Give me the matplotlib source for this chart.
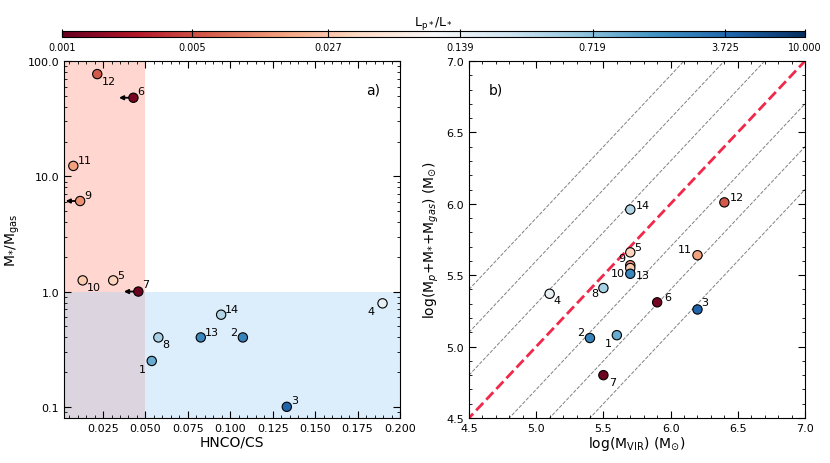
import numpy as np
import matplotlib
matplotlib.use("Agg")
import matplotlib.pyplot as plt
from matplotlib.colors import LogNorm
from matplotlib.ticker import FixedLocator, NullFormatter

ids = [1, 2, 3, 4, 5, 6, 7, 8, 9, 10, 11, 12, 13, 14]
hnco_cs = [0.0537, 0.1074, 0.1333, 0.1897, 0.031, 0.0429, 0.0458, 0.0576, 0.0115, 0.013, 0.0075, 0.0216, 0.0826, 0.0946]
mstar_mgas = [0.25, 0.40, 0.10, 0.79, 1.25, 48.0, 1.0, 0.40, 6.1, 1.25, 12.3, 77.0, 0.40, 0.63]
upper_limit = [False, False, False, False, False, True, True, False, True, False, False, False, False, False]
log_mvir = [5.6, 5.4, 6.2, 5.1, 5.7, 5.9, 5.5, 5.5, 5.7, 5.7, 6.2, 6.4, 5.7, 5.7]
log_mtot = [5.08, 5.06, 5.26, 5.37, 5.66, 5.31, 4.80, 5.41, 5.57, 5.55, 5.64, 6.01, 5.51, 5.96]
lum_ratio = [1.0, 2.2, 4.0, 0.15, 0.035, 0.0012, 0.0011, 0.45, 0.012, 0.03, 0.015, 0.006, 2.0, 0.4]
cbar_ticks = [0.001, 0.005, 0.027, 0.139, 0.719, 3.725, 10.0]
line_offsets = [-0.9, -0.6, -0.3, 0.3, 0.6, 0.9]

off_a = {1:(-9,-8),2:(-9,2),3:(3,3),4:(-11,-8),5:(3,2),6:(3,3),7:(3,3),8:(3,-7),9:(3,2),10:(3,-7),11:(3,2),12:(3,-7),13:(3,2),14:(3,2)}
off_b = {1:(-9,-8),2:(-9,2),3:(3,3),4:(3,-7),5:(3,2),6:(5,2),7:(4,-7),8:(-9,-6),9:(-9,3),10:(-14,-6),11:(-14,2),12:(4,2),13:(4,-3),14:(4,1)}

norm = LogNorm(0.001, 10)
cmap = plt.get_cmap("RdBu")

fig = plt.figure(figsize=(8.3, 4.64), dpi=100)
W, H = 830, 464
axa = fig.add_axes([64/W, 1-419/H, 336/W, 357/H])
axb = fig.add_axes([469/W, 1-419/H, 336/W, 357/H])
cax = fig.add_axes([62/W, 1-38/H, 743/W, 6/H])

for ax in (axa, axb):
    ax.tick_params(which="both", direction="in", top=True, right=True, labelsize=8)
    ax.tick_params(which="major", length=5)
    ax.tick_params(which="minor", length=2.5)

# panel a
axa.set_yscale("log")
axa.set_xlim(0.002, 0.2); axa.set_ylim(0.08, 100)
axa.axvspan(0.002, 0.05, color="#ff9a8a", alpha=0.4, lw=0, zorder=0)
axa.axhspan(0.08, 1.0, color="#a8d4f7", alpha=0.4, lw=0, zorder=0)
axa.scatter(hnco_cs, mstar_mgas, c=lum_ratio, cmap=cmap, norm=norm, s=45, edgecolors="k", linewidths=0.8, zorder=3)
for i, x, y, ul in zip(ids, hnco_cs, mstar_mgas, upper_limit):
    if ul:
        axa.annotate("", xy=(x - 0.0085, y), xytext=(x, y),
                     arrowprops=dict(arrowstyle="-|>", color="k", lw=1.3, mutation_scale=6, shrinkA=0, shrinkB=0), zorder=2)
    axa.annotate(str(i), (x, y), xytext=off_a[i], textcoords="offset points", fontsize=8)
axa.set_xticks([0.025, 0.05, 0.075, 0.1, 0.125, 0.15, 0.175, 0.2])
axa.set_xticklabels(["0.025", "0.050", "0.075", "0.100", "0.125", "0.150", "0.175", "0.200"])
axa.xaxis.set_minor_locator(FixedLocator(np.arange(0.005, 0.2, 0.005)))
axa.set_yticks([0.1, 1, 10, 100])
axa.set_yticklabels(["0.1", "1.0", "10.0", "100.0"])
axa.yaxis.set_minor_formatter(NullFormatter())
axa.set_xlabel("HNCO/CS", fontsize=10, labelpad=1)
axa.set_ylabel(r"M$_{*}$/M$_{\rm gas}$", fontsize=10)
axa.text(0.94, 0.92, "a)", transform=axa.transAxes, ha="right", va="center", fontsize=10)

# panel b
axb.set_xlim(4.5, 7.0); axb.set_ylim(4.5, 7.0)
xx = np.array([4.0, 8.0])
for c in line_offsets:
    axb.plot(xx, xx + c, ls="--", color="gray", lw=0.7, zorder=1)
axb.plot(xx, xx, ls="--", color="#f0284a", lw=2, zorder=2)
axb.scatter(log_mvir, log_mtot, c=lum_ratio, cmap=cmap, norm=norm, s=45, edgecolors="k", linewidths=0.8, zorder=3)
for i, x, y in zip(ids, log_mvir, log_mtot):
    axb.annotate(str(i), (x, y), xytext=off_b[i], textcoords="offset points", fontsize=8)
axb.set_xticks(np.arange(4.5, 7.01, 0.5))
axb.set_yticks(np.arange(4.5, 7.01, 0.5))
axb.xaxis.set_minor_locator(FixedLocator(np.arange(4.5, 7.01, 0.1)))
axb.yaxis.set_minor_locator(FixedLocator(np.arange(4.5, 7.01, 0.1)))
axb.set_xlabel(r"log(M$_{\rm VIR}$) (M$_{\odot}$)", fontsize=10, labelpad=1)
axb.set_ylabel(r"log(M$_{p}$+M$_{*}$+M$_{gas}$) (M$_{\odot}$)", fontsize=10)
axb.text(0.06, 0.92, "b)", transform=axb.transAxes, ha="left", va="center", fontsize=10)

sm = plt.cm.ScalarMappable(norm=norm, cmap=cmap)
cb = fig.colorbar(sm, cax=cax, orientation="horizontal")
cb.set_ticks(cbar_ticks)
cb.set_ticklabels(["0.001", "0.005", "0.027", "0.139", "0.719", "3.725", "10.000"])
cb.ax.xaxis.set_minor_locator(FixedLocator([]))
cb.ax.tick_params(labelsize=7, direction="in", length=6)
cax.set_title(r"L$_{\rm p*}$/L$_{*}$", fontsize=9, pad=4)

fig.savefig("out.png", dpi=100)
